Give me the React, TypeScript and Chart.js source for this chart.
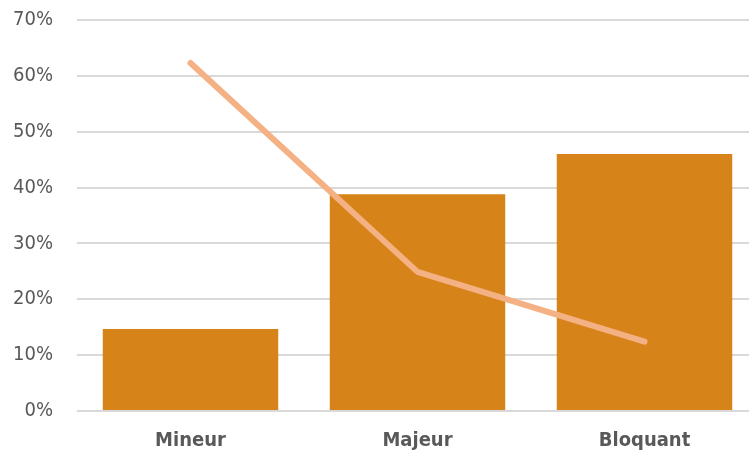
import React, { useEffect, useRef } from "react";
import { Chart, registerables } from "chart.js";

Chart.register(...registerables);

const categories = ["Mineur", "Majeur", "Bloquant"];
const barValues = [14.7, 38.8, 46.0];
const lineValues = [62.3, 24.9, 12.4];
const yTicks = [0, 10, 20, 30, 40, 50, 60, 70];

export default function App() {
  const ref = useRef<HTMLCanvasElement | null>(null);
  useEffect(() => {
    document.body.style.margin = "0";
    const ctx = ref.current!;
    const chart = new Chart(ctx, {
      type: "bar",
      data: {
        labels: categories,
        datasets: [
          {
            type: "line",
            data: lineValues,
            borderColor: "#F4B183",
            borderWidth: 6,
            pointRadius: 0,
            borderCapStyle: "round",
            borderJoinStyle: "round",
            tension: 0,
            order: 0,
          } as any,
          {
            type: "bar",
            data: barValues,
            backgroundColor: "#D6831A",
            barPercentage: 0.773,
            categoryPercentage: 1,
            order: 1,
          },
        ],
      },
      options: {
        animation: false,
        responsive: false,
        maintainAspectRatio: false,
        layout: { padding: 0 },
        plugins: { legend: { display: false }, tooltip: { enabled: false } },
        scales: {
          x: {
            grid: { display: false, drawTicks: false },
            border: { display: false },
            afterFit: (axis: any) => {
              axis.height = 42;
            },
            ticks: {
              color: "#595959",
              font: { family: "DejaVu Sans Condensed", size: 20, weight: "bold" },
              padding: 18,
            },
          },
          y: {
            min: 0,
            max: 70,
            afterBuildTicks: (axis: any) => {
              axis.ticks = yTicks.map((v) => ({ value: v }));
            },
            afterFit: (axis: any) => {
              axis.width = 77;
            },
            grid: { color: "#D9D9D9", lineWidth: 2, drawTicks: false },
            border: { display: false },
            ticks: {
              color: "#595959",
              font: { family: "DejaVu Sans Condensed", size: 20 },
              padding: 24,
              callback: (v: any) => v + "%",
            },
          },
        },
      },
    });
    return () => chart.destroy();
  }, []);
  return (
    <div style={{ position: "fixed", left: 0, top: 0, width: 749, height: 453, overflow: "hidden" }}>
      <canvas
        ref={ref}
        width={758}
        height={469}
        style={{ position: "absolute", left: 0, top: -16, width: 758, height: 469 }}
      />
    </div>
  );
}
